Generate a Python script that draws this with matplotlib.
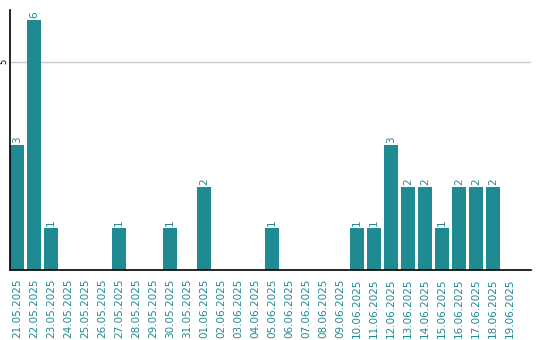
import matplotlib
matplotlib.use('agg')
import matplotlib.pyplot as plt
import numpy as np

dates = ['21.05.2025', '22.05.2025', '23.05.2025', '24.05.2025', '25.05.2025',
         '26.05.2025', '27.05.2025', '28.05.2025', '29.05.2025', '30.05.2025',
         '31.05.2025', '01.06.2025', '02.06.2025', '03.06.2025', '04.06.2025',
         '05.06.2025', '06.06.2025', '07.06.2025', '08.06.2025', '09.06.2025',
         '10.06.2025', '11.06.2025', '12.06.2025', '13.06.2025', '14.06.2025',
         '15.06.2025', '16.06.2025', '17.06.2025', '18.06.2025', '19.06.2025']
counts = [3, 6, 1, 0, 0, 0, 1, 0, 0, 1,
          0, 2, 0, 0, 0, 1, 0, 0, 0, 0,
          1, 1, 3, 2, 2, 1, 2, 2, 2, 0]

teal = '#1f8a92'

fig = plt.figure(figsize=(5.4, 3.4), dpi=100)
ax = fig.add_axes([10 / 540, 70 / 340, 521 / 540, 260 / 340])

x = np.arange(len(dates))
ax.bar(x, counts, width=14 / 17, color=teal, zorder=2)
for xi, c in zip(x, counts):
    if c > 0:
        ax.text(xi, c + 0.05, str(c), rotation=90, ha='center', va='bottom',
                fontsize=7.5, color=teal)

ax.set_xlim(-7 / 17, 30.24)
ax.set_ylim(0, 6.24)
ax.set_xticks(x)
ax.set_xticklabels(dates, rotation=90, fontsize=7.5, color=teal)
ax.set_yticks([5])
ax.set_yticklabels(['5'], rotation=90, fontsize=6, va='center')
ax.tick_params(axis='y', length=0, pad=1)
ax.tick_params(axis='x', length=0, pad=6)
ax.axhline(5, color='#c8c8c8', lw=1, zorder=1)

for s in ['top', 'right']:
    ax.spines[s].set_visible(False)
ax.spines['left'].set_linewidth(1.2)
ax.spines['bottom'].set_linewidth(1.2)

fig.savefig('out.png', dpi=100)
